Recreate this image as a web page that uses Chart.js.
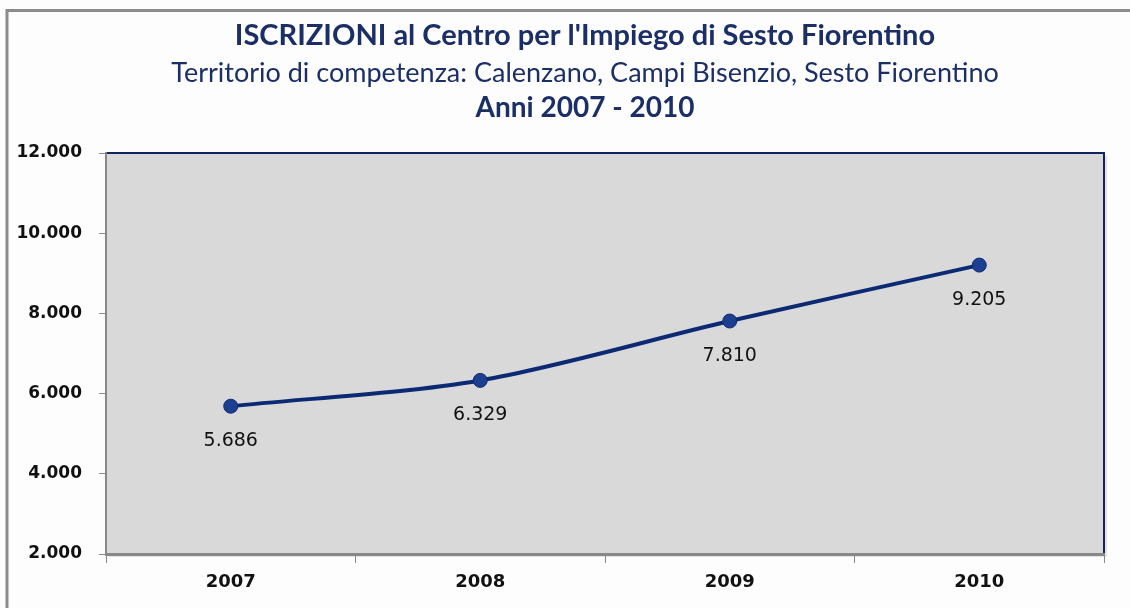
<!DOCTYPE html>
<html>
<head>
<meta charset="utf-8">
<script src="https://cdn.jsdelivr.net/npm/chart.js@4/dist/chart.umd.min.js"></script>
<style>
    html, body { margin: 0; padding: 0; background: #fdfdfd; }
    #wrap { width: 1130px; height: 608px; }
</style>
</head>
<body>
<div id="wrap"><canvas id="iscrizioniChart" width="1130" height="608"></canvas></div>
<script>
// data
const years = ['2007', '2008', '2009', '2010'];
const iscrizioni = [5686, 6329, 7810, 9205];
const yTicks = [2000, 4000, 6000, 8000, 10000, 12000];
const titleLines = [
    "ISCRIZIONI al Centro per l'Impiego di Sesto Fiorentino",
    'Territorio di competenza: Calenzano, Campi Bisenzio, Sesto Fiorentino',
    'Anni 2007 - 2010'
];

function fmt(v) {
    return String(v).replace(/\B(?=(\d{3})+(?!\d))/g, '.');
}

const navy = '#0c2a74';
const titleColor = '#1b2f66';

// plot background, frame and titles
const framePlugin = {
    id: 'frame',
    beforeDraw(chart) {
        const c = chart.ctx, a = chart.chartArea;
        c.save();
        c.fillStyle = '#fdfdfd';
        c.fillRect(0, 0, chart.width, chart.height);
        // outer frame (top + left)
        c.strokeStyle = '#8c8c8c';
        c.lineWidth = 3;
        c.beginPath();
        c.moveTo(7, chart.height);
        c.lineTo(7, 10.5);
        c.lineTo(chart.width, 10.5);
        c.stroke();
        // shadow + plot area
        c.fillStyle = '#e4e4e4';
        c.fillRect(a.left + 3, a.top + 3, a.right - a.left, a.bottom - a.top);
        c.fillStyle = '#d9d9d9';
        c.fillRect(a.left, a.top, a.right - a.left, a.bottom - a.top);
        c.strokeStyle = '#0f2460';
        c.lineWidth = 2;
        c.beginPath();
        c.moveTo(a.left, a.top);
        c.lineTo(a.right, a.top);
        c.lineTo(a.right, a.bottom);
        c.stroke();
        // titles
        c.fillStyle = titleColor;
        c.textAlign = 'center';
        c.textBaseline = 'middle';
        const cx = 585;
        c.font = 'bold 29px Lato';
        c.fillText(titleLines[0], cx, 36);
        c.font = '27px Lato';
        c.fillText(titleLines[1], cx, 73);
        c.font = 'bold 28px Lato';
        c.fillText(titleLines[2], cx, 108);
        c.restore();
    },
    afterDatasetsDraw(chart) {
        const c = chart.ctx;
        const meta = chart.getDatasetMeta(0);
        c.save();
        c.fillStyle = '#111';
        c.font = '19px "DejaVu Sans"';
        c.textAlign = 'center';
        c.textBaseline = 'middle';
        meta.data.forEach(function (pt, i) {
            c.fillText(fmt(iscrizioni[i]), pt.x, pt.y + 35);
        });
        c.restore();
    }
};

new Chart(document.getElementById('iscrizioniChart'), {
    type: 'line',
    data: {
        labels: years,
        datasets: [{
            label: 'Iscrizioni',
            data: iscrizioni,
            borderColor: navy,
            borderWidth: 4,
            tension: 0.3,
            pointRadius: 7,
            pointBackgroundColor: '#1d3f92',
            pointBorderColor: '#10296a',
            pointBorderWidth: 1,
            fill: false
        }]
    },
    options: {
        responsive: false,
        animation: false,
        layout: {padding: {left: 8, top: 153, right: 26, bottom: 0}},
        plugins: {
            legend: {display: false},
            tooltip: {enabled: false}
        },
        scales: {
            x: {
                offset: true,
                grid: {offset: true, drawOnChartArea: false, color: '#888', tickLength: 9},
                border: {color: '#888', width: 3},
                ticks: {color: '#111', padding: 9, font: {family: 'DejaVu Sans', size: 18, weight: 'bold'}},
                afterFit(scale) { scale.height = 54; }
            },
            y: {
                min: yTicks[0],
                max: yTicks[yTicks.length - 1],
                afterBuildTicks(scale) { scale.ticks = yTicks.map(v => ({value: v})); },
                grid: {drawOnChartArea: false, color: '#888', tickLength: 7},
                border: {color: '#888', width: 2},
                ticks: {
                    color: '#111',
                    padding: 17,
                    font: {family: 'DejaVu Sans', size: 17, weight: 'bold'},
                    callback: v => fmt(v)
                },
                afterFit(scale) { scale.width = 98; }
            }
        }
    },
    plugins: [framePlugin]
});
</script>
</body>
</html>
